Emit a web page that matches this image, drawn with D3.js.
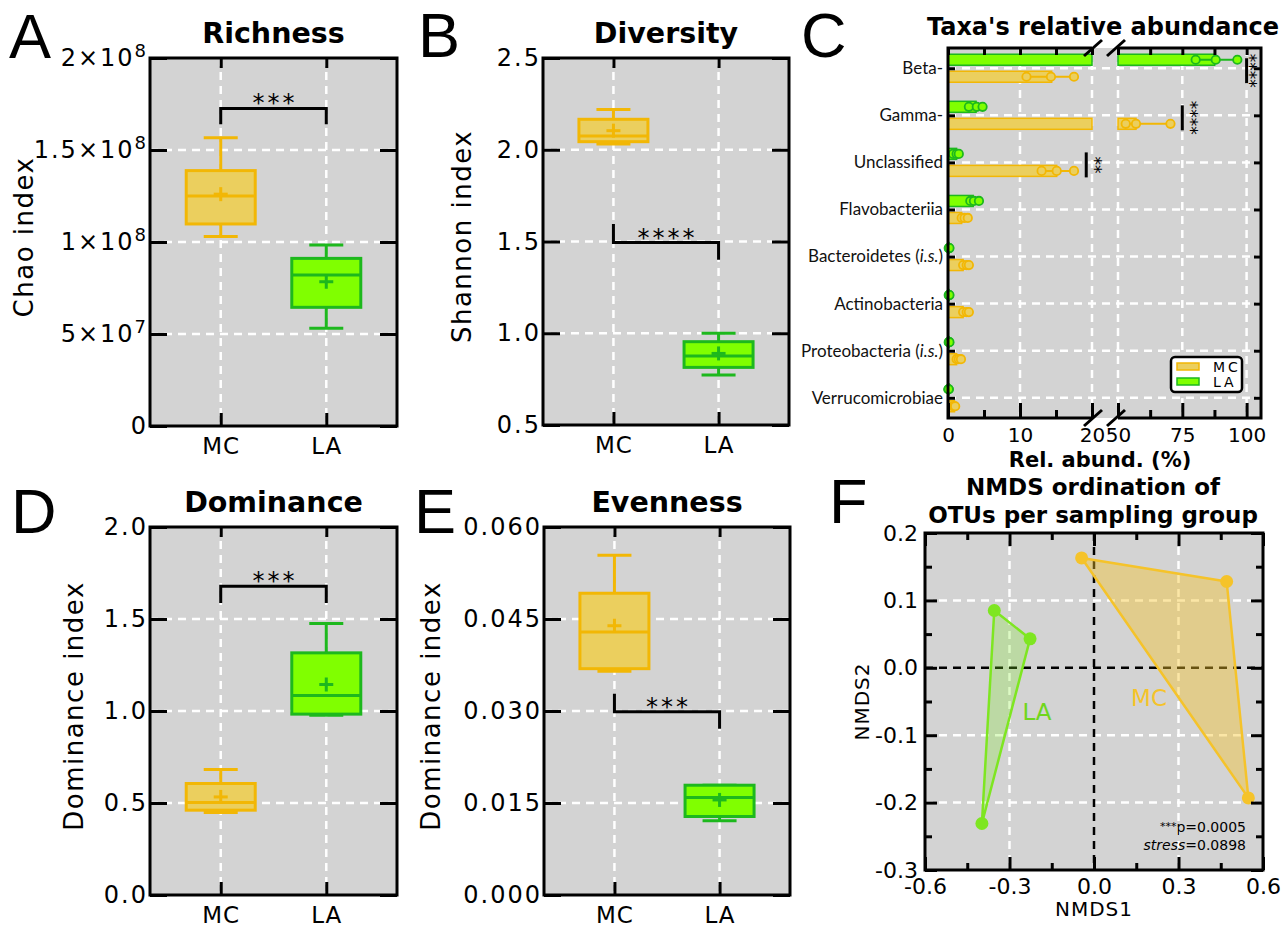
<!DOCTYPE html>
<html lang="en">
<head>
<meta charset="UTF-8">
<title>Alpha diversity, taxa abundance and NMDS</title>
<style>
  body { margin: 0; background: #fff; }
  svg { display: block; font-family: "DejaVu Sans", sans-serif; }
</style>
</head>
<body>
<script src="https://cdn.jsdelivr.net/npm/d3@7"></script>
<script>
const W = 1282, H = 928;

// ---- box plots: [min, q1, median, q3, max, mean]
const groups = ["MC", "LA"];
const richnessMC = [1.03e8, 1.098e8, 1.25e8, 1.388e8, 1.567e8, 1.26e8];
const richnessLA = [0.531e8, 0.645e8, 0.821e8, 0.911e8, 0.984e8, 0.784e8];
const diversityMC = [2.031, 2.044, 2.075, 2.166, 2.22, 2.104];
const diversityLA = [0.772, 0.814, 0.876, 0.954, 1.0, 0.89];
const dominanceMC = [0.449, 0.461, 0.503, 0.606, 0.682, 0.533];
const dominanceLA = [0.977, 0.983, 1.084, 1.316, 1.475, 1.144];
const evennessMC = [0.0365, 0.0369, 0.0429, 0.0492, 0.0554, 0.0439];
const evennessLA = [0.0121, 0.0128, 0.0159, 0.0179, 0.0179, 0.0155];

const richnessTicks = [0, 5e7, 1e8, 1.5e8, 2e8];
const diversityTicks = [0.5, 1.0, 1.5, 2.0, 2.5];
const dominanceTicks = [0, 0.5, 1.0, 1.5, 2.0];
const evennessTicks = [0, 0.015, 0.03, 0.045, 0.06];

// significance brackets: [left leg end, bar level, right leg end]
const richnessSig = [1.64e8, 1.726e8, 1.64e8];
const diversitySig = [1.595, 1.494, 1.40];
const dominanceSig = [1.587, 1.678, 1.587];
const evennessSig = [0.0328, 0.02986, 0.0271];

// ---- taxa relative abundance (%)
const taxa = ["Beta-", "Gamma-", "Unclassified", "Flavobacteriia",
  "Bacteroidetes (i.s.)", "Actinobacteria", "Proteobacteria (i.s.)", "Verrucomicrobiae"];
const mcAbund = [14.4, 57.0, 15.1, 1.9, 2.1, 2.1, 1.2, 0.9];
const laAbund = [87.6, 3.9, 1.2, 3.5, 0.15, 0.15, 0.15, 0.1];
const mcPoints = [[10.9, 14.3, 17.5], [53, 57, 70.4], [13.0, 15.1, 17.5], [1.9, 2.3, 2.75],
  [2.1, 2.6, 2.9], [2.1, 2.6, 2.9], [1.2, 1.5, 1.8], [0.7, 0.9, 1.0]];
const laPoints = [[80.2, 88.0, 96.4], [2.9, 4.0, 4.8], [0.7, 1.2, 1.5], [3.1, 3.6, 4.3],
  [0.1, 0.15, 0.2], [0.1, 0.15, 0.2], [0.1, 0.15, 0.2], [0.05, 0.1, 0.1]];
// [taxon, x position (%), stars, gap between line and stars]
const taxaSig = [["Beta-", 100, "****", 6.5], ["Gamma-", 75, "****", 12], ["Unclassified", 19.2, "**", 12]];
const abundTicksLow = [0, 5, 10, 15, 20];
const abundTicksHigh = [50, 62.5, 75, 87.5, 100];
const abundLabelsLow = [0, 10, 20];
const abundLabelsHigh = [50, 75, 100];

// ---- NMDS
const nmdsLA = [[-0.354, 0.085], [-0.227, 0.043], [-0.398, -0.231]];
const nmdsMC = [[-0.044, 0.163], [0.471, 0.128], [0.548, -0.193]];
const nmdsXTicks = [-0.6, -0.3, 0, 0.3, 0.6];
const nmdsXMinor = [-0.45, -0.15, 0.15, 0.45];
const nmdsYTicks = [-0.3, -0.2, -0.1, 0, 0.1, 0.2];
const nmdsYMinor = [-0.25, -0.15, -0.05, 0.05, 0.15];

const col = {
  MC: { fill: "#ebcf5e", stroke: "#f2b705" },
  LA: { fill: "#80ff00", stroke: "#1db81d" }
};
const BG = "#d3d3d3";

const svg = d3.select("body").append("svg").attr("width", W).attr("height", H);

function styleAxis(sel, size, spacing) {
  sel.select(".domain").remove();
  sel.selectAll("line").attr("stroke", "#000").attr("stroke-width", 3);
  sel.attr("font-family", "DejaVu Sans").attr("font-size", size);
  sel.selectAll("text").attr("fill", "#000").style("letter-spacing", (spacing || 0) + "px");
}

function gridLine(g, x1, y1, x2, y2, color) {
  g.append("line").attr("x1", x1).attr("y1", y1).attr("x2", x2).attr("y2", y2)
    .attr("stroke", color || "#fff").attr("stroke-width", 2.5).attr("stroke-dasharray", "8,6");
}

// superscript labels for richness axis
function sciLabel(text) {
  text.each(function (d) {
    const t = d3.select(this);
    t.text(null);
    if (d === 0) { t.text("0"); return; }
    const e = Math.floor(Math.log10(d));
    const m = +(d / Math.pow(10, e)).toFixed(1);
    t.append("tspan").text(m + "×10");
    t.append("tspan").attr("dy", "-0.5em").attr("font-size", "0.75em").text(e);
  });
}

function boxPanel(o) {
  const g = svg.append("g");
  const x = d3.scalePoint().domain(groups).range([o.x0, o.x1]).padding(0.67);
  const y = d3.scaleLinear().domain([o.ticks[0], o.ticks[o.ticks.length - 1]]).range([o.y1, o.y0]);

  g.append("rect").attr("x", o.x0).attr("y", o.y0).attr("width", o.x1 - o.x0)
    .attr("height", o.y1 - o.y0).attr("fill", BG);
  o.ticks.slice(1, -1).forEach(t => gridLine(g, o.x0, y(t), o.x1, y(t)));
  groups.forEach(k => gridLine(g, x(k), o.y0, x(k), o.y1));

  const stats = { MC: o.mc, LA: o.la };
  groups.forEach(k => {
    const s = stats[k], cx = x(k), c = col[k];
    const gb = g.append("g").attr("stroke", c.stroke).attr("stroke-width", 3);
    gb.append("line").attr("x1", cx).attr("x2", cx).attr("y1", y(s[0])).attr("y2", y(s[4]));
    [s[0], s[4]].forEach(v => gb.append("line").attr("x1", cx - 17).attr("x2", cx + 17)
      .attr("y1", y(v)).attr("y2", y(v)));
    gb.append("rect").attr("x", cx - 34.5).attr("width", 69).attr("y", y(s[3]))
      .attr("height", y(s[1]) - y(s[3])).attr("fill", c.fill);
    gb.append("line").attr("x1", cx - 34.5).attr("x2", cx + 34.5).attr("y1", y(s[2])).attr("y2", y(s[2]));
    gb.append("line").attr("x1", cx - 7).attr("x2", cx + 7).attr("y1", y(s[5])).attr("y2", y(s[5]));
    gb.append("line").attr("x1", cx).attr("x2", cx).attr("y1", y(s[5]) - 7).attr("y2", y(s[5]) + 7);
  });

  // significance bracket
  const sg = o.sig;
  g.append("path")
    .attr("d", `M${x("MC")},${y(sg[0])}V${y(sg[1])}H${x("LA")}V${y(sg[2])}`)
    .attr("fill", "none").attr("stroke", "#000").attr("stroke-width", 3);
  g.append("text").attr("x", (x("MC") + x("LA")) / 2 + 1.5).attr("y", y(sg[1]) + 3)
    .attr("text-anchor", "middle").attr("font-size", 24).style("letter-spacing", "3px")
    .text(o.stars);

  // inward ticks on all sides
  g.append("g").attr("transform", `translate(${o.x0},0)`)
    .call(d3.axisRight(y).tickValues(o.ticks).tickSize(17).tickFormat("")).call(styleAxis);
  g.append("g").attr("transform", `translate(${o.x1},0)`)
    .call(d3.axisLeft(y).tickValues(o.ticks).tickSize(17).tickFormat("")).call(styleAxis);
  g.append("g").attr("transform", `translate(0,${o.y0})`)
    .call(d3.axisBottom(x).tickSize(10).tickFormat("")).call(styleAxis);
  g.append("g").attr("transform", `translate(0,${o.y1})`)
    .call(d3.axisTop(x).tickSize(13).tickFormat("")).call(styleAxis);

  // tick labels
  const yl = g.append("g").attr("transform", `translate(${o.x0},0)`)
    .call(d3.axisLeft(y).tickValues(o.ticks).tickSize(0).tickPadding(2)
      .tickFormat(o.fmt || (d => d)));
  styleAxis(yl, 24, 2);
  if (o.sci) yl.selectAll("text").call(sciLabel);
  const xl = g.append("g").attr("transform", `translate(0,${o.y1})`)
    .call(d3.axisBottom(x).tickSize(0).tickPadding(12));
  styleAxis(xl, 23, 1);

  g.append("rect").attr("x", o.x0).attr("y", o.y0).attr("width", o.x1 - o.x0)
    .attr("height", o.y1 - o.y0).attr("fill", "none").attr("stroke", "#000").attr("stroke-width", 3);

  g.append("text").attr("x", (o.x0 + o.x1) / 2).attr("y", o.titleY).attr("text-anchor", "middle")
    .attr("font-size", 28.5).attr("font-weight", "bold").text(o.title);
  g.append("text").attr("transform", `translate(${o.ylabX},${(o.y0 + o.y1) / 2 - 5}) rotate(-90)`)
    .attr("text-anchor", "middle").attr("font-size", 26).style("letter-spacing", "1.5px").text(o.ylab);
}

boxPanel({ title: "Richness", ylab: "Chao index", x0: 150, x1: 397, y0: 58, y1: 426,
  ticks: richnessTicks, mc: richnessMC, la: richnessLA, sig: richnessSig, stars: "***",
  sci: true, titleY: 43, ylabX: 33 });
boxPanel({ title: "Diversity", ylab: "Shannon index", x0: 543, x1: 789, y0: 58, y1: 425,
  ticks: diversityTicks, mc: diversityMC, la: diversityLA, sig: diversitySig, stars: "****",
  fmt: d3.format(".1f"), titleY: 43, ylabX: 471 });
boxPanel({ title: "Dominance", ylab: "Dominance index", x0: 150, x1: 397, y0: 527, y1: 895,
  ticks: dominanceTicks, mc: dominanceMC, la: dominanceLA, sig: dominanceSig, stars: "***",
  fmt: d3.format(".1f"), titleY: 512, ylabX: 83 });
boxPanel({ title: "Evenness", ylab: "Dominance index", x0: 544, x1: 790, y0: 527, y1: 895,
  ticks: evennessTicks, mc: evennessMC, la: evennessLA, sig: evennessSig, stars: "***",
  fmt: d3.format(".3f"), titleY: 512, ylabX: 440 });

// ================= panel C: broken-axis bars =================
(function () {
  const x0 = 948, x1 = 1261, y0 = 48, y1 = 418;
  const xs1 = d3.scaleLinear().domain([0, 20]).range([x0, 1092]);
  const xs2 = d3.scaleLinear().domain([50, 105.6]).range([1118, x1]);
  const yC = d3.scalePoint().domain(taxa).range([y0, y1]).padding(0.43);
  const px = v => v <= 20 ? xs1(v) : xs2(Math.max(v, 50));
  const pieces = (a, b) => {
    const out = [];
    if (a < 20) out.push([xs1(a), xs1(Math.min(b, 20))]);
    if (b > 50) out.push([xs2(Math.max(a, 50)), xs2(b)]);
    return out;
  };
  const g = svg.append("g");
  g.append("rect").attr("x", x0).attr("y", y0).attr("width", x1 - x0).attr("height", y1 - y0).attr("fill", BG);
  [10, 20].forEach(v => gridLine(g, xs1(v), y0, xs1(v), y1));
  [50, 75, 100].forEach(v => gridLine(g, xs2(v), y0, xs2(v), y1));
  taxa.forEach(t => gridLine(g, x0, yC(t), x1, yC(t)));

  const series = [
    { key: "LA", vals: laAbund, pts: laPoints, off: -14 },
    { key: "MC", vals: mcAbund, pts: mcPoints, off: 3 }
  ];
  series.forEach(s => {
    const c = col[s.key];
    taxa.forEach((t, i) => {
      const top = yC(t) + s.off, cy = top + 5.5;
      pieces(0, s.vals[i]).forEach(p => g.append("rect").attr("x", p[0]).attr("y", top)
        .attr("width", Math.max(p[1] - p[0], 1)).attr("height", 11)
        .attr("fill", c.fill).attr("stroke", c.stroke).attr("stroke-width", 1.5));
      const pts = s.pts[i];
      pieces(d3.min(pts), d3.max(pts)).forEach(p => g.append("line").attr("x1", p[0]).attr("x2", p[1])
        .attr("y1", cy).attr("y2", cy).attr("stroke", c.stroke).attr("stroke-width", 2));
      g.selectAll(null).data(pts).join("circle").attr("cx", px).attr("cy", cy).attr("r", 4.2)
        .attr("fill", c.fill).attr("stroke", c.stroke).attr("stroke-width", 1.8);
    });
  });

  // significance
  taxaSig.forEach(([t, at, lab, gap]) => {
    const xv = px(at);
    g.append("line").attr("x1", xv).attr("x2", xv).attr("y1", yC(t) - 10).attr("y2", yC(t) + 15)
      .attr("stroke", "#000").attr("stroke-width", 3);
    g.append("text").attr("transform", `translate(${xv + gap - 9.5},${yC(t) + 2.5}) rotate(90)`)
      .attr("text-anchor", "middle").attr("font-size", 17).text(lab);
  });

  // ticks
  const tk = (axis, tx, ty) => g.append("g").attr("transform", `translate(${tx},${ty})`).call(axis).call(styleAxis);
  tk(d3.axisRight(yC).tickSize(7).tickFormat(""), x0, 0);
  tk(d3.axisLeft(yC).tickSize(7).tickFormat(""), x1, 0);
  tk(d3.axisBottom(xs1).tickValues(abundTicksLow).tickSize(7).tickFormat(""), 0, y0);
  tk(d3.axisBottom(xs2).tickValues(abundTicksHigh).tickSize(7).tickFormat(""), 0, y0);
  tk(d3.axisTop(xs1).tickValues(abundLabelsLow).tickSize(15).tickFormat(""), 0, y1);
  tk(d3.axisTop(xs2).tickValues(abundLabelsHigh).tickSize(15).tickFormat(""), 0, y1);
  tk(d3.axisTop(xs1).tickValues([5, 15]).tickSize(8).tickFormat(""), 0, y1);
  tk(d3.axisTop(xs2).tickValues([62.5, 87.5]).tickSize(8).tickFormat(""), 0, y1);

  [xs1, xs2].forEach((s, i) => {
    const a = g.append("g").attr("transform", `translate(0,${y1})`)
      .call(d3.axisBottom(s).tickValues(i ? abundLabelsHigh : abundLabelsLow).tickSize(0).tickPadding(10));
    styleAxis(a, 20);
  });
  const yl = g.append("g").attr("transform", `translate(${x0},0)`)
    .call(d3.axisLeft(yC).tickSize(0).tickPadding(5));
  styleAxis(yl, 17);
  yl.attr("font-family", "Lato");
  yl.selectAll("text").attr("fill", "#111").each(function (d) {
    if (d.indexOf("(i.s.)") < 0) return;
    const t = d3.select(this);
    t.text(null);
    t.append("tspan").text(d.replace(" (i.s.)", " ("));
    t.append("tspan").attr("font-style", "italic").text("i.s.");
    t.append("tspan").text(")");
  });

  // frame with break
  const fr = g.append("g").attr("stroke", "#000").attr("stroke-width", 3).attr("fill", "none");
  fr.append("path").attr("d", `M${xs1(20)},${y0}H${x0}V${y1}H${xs1(20)}`);
  fr.append("path").attr("d", `M${xs2(50)},${y0}H${x1}V${y1}H${xs2(50)}`);
  [xs1(20) + 1, xs2(50) - 2].forEach(bx => [y0, y1].forEach(by =>
    fr.append("line").attr("x1", bx - 9).attr("y1", by + 8).attr("x2", bx + 9).attr("y2", by - 8)));

  // legend
  const lg = g.append("g");
  lg.append("rect").attr("x", 1171).attr("y", 357).attr("width", 71).attr("height", 35).attr("rx", 4)
    .attr("fill", "#fff").attr("stroke", "#000").attr("stroke-width", 2.5);
  ["MC", "LA"].forEach((k, i) => {
    lg.append("rect").attr("x", 1177).attr("y", 363 + i * 15).attr("width", 22).attr("height", 7)
      .attr("fill", col[k].fill).attr("stroke", col[k].stroke).attr("stroke-width", 1.5);
    lg.append("text").attr("x", 1213).attr("y", 372 + i * 14.5).attr("font-size", 14)
      .style("letter-spacing", "3px").text(k);
  });

  g.append("text").attr("x", 1103).attr("y", 35).attr("text-anchor", "middle").attr("font-size", 24)
    .attr("font-weight", "bold").text("Taxa's relative abundance");
  g.append("text").attr("x", 1100).attr("y", 467).attr("text-anchor", "middle").attr("font-size", 21)
    .attr("font-weight", "bold").text("Rel. abund. (%)");
})();

// ================= panel F: NMDS =================
(function () {
  const x0 = 925, x1 = 1263, y0 = 533, y1 = 870;
  const x = d3.scaleLinear().domain([-0.6, 0.6]).range([x0, x1]);
  const y = d3.scaleLinear().domain([-0.3, 0.2]).range([y1, y0]);
  const g = svg.append("g");
  g.append("rect").attr("x", x0).attr("y", y0).attr("width", x1 - x0).attr("height", y1 - y0).attr("fill", BG);
  [-0.3, 0.3].forEach(v => gridLine(g, x(v), y0, x(v), y1));
  [0.1, -0.1, -0.2].forEach(v => gridLine(g, x0, y(v), x1, y(v)));
  gridLine(g, x(0), y0, x(0), y1, "#000");
  gridLine(g, x0, y(0), x1, y(0), "#000");

  const groupsF = [
    { pts: nmdsLA, c: "#7ee621", fill: "rgba(126,232,36,0.27)" },
    { pts: nmdsMC, c: "#f5c32a", fill: "rgba(245,195,42,0.42)" }
  ];
  groupsF.forEach(s => {
    const hull = d3.polygonHull(s.pts.map(p => [x(p[0]), y(p[1])]));
    g.append("path").attr("d", "M" + hull.join("L") + "Z").attr("fill", s.fill)
      .attr("stroke", s.c).attr("stroke-width", 2.5).attr("stroke-linejoin", "round");
    g.selectAll(null).data(s.pts).join("circle").attr("cx", d => x(d[0])).attr("cy", d => y(d[1]))
      .attr("r", 6.5).attr("fill", s.c);
  });
  g.append("text").attr("x", 1037).attr("y", 720).attr("text-anchor", "middle").attr("font-size", 23)
    .attr("fill", "#6fd61c").text("LA");
  g.append("text").attr("x", 1149).attr("y", 706).attr("text-anchor", "middle").attr("font-size", 23)
    .attr("fill", "#f5c32a").text("MC");

  const st = g.append("text").attr("x", 1246).attr("y", 832).attr("text-anchor", "end").attr("font-size", 14);
  st.append("tspan").attr("font-size", 11).attr("dy", -2).text("***");
  st.append("tspan").attr("dy", 2).text("p=0.0005");
  const st2 = g.append("text").attr("x", 1246).attr("y", 850).attr("text-anchor", "end").attr("font-size", 14);
  st2.append("tspan").attr("font-style", "italic").text("stress");
  st2.append("tspan").text("=0.0898");

  const tk = (axis, tx, ty) => g.append("g").attr("transform", `translate(${tx},${ty})`).call(axis).call(styleAxis);
  tk(d3.axisBottom(x).tickValues(nmdsXTicks).tickSize(13).tickFormat(""), 0, y0);
  tk(d3.axisBottom(x).tickValues(nmdsXMinor).tickSize(7).tickFormat(""), 0, y0);
  tk(d3.axisTop(x).tickValues(nmdsXTicks).tickSize(13).tickFormat(""), 0, y1);
  tk(d3.axisTop(x).tickValues(nmdsXMinor).tickSize(7).tickFormat(""), 0, y1);
  tk(d3.axisRight(y).tickValues(nmdsYTicks).tickSize(12).tickFormat(""), x0, 0);
  tk(d3.axisRight(y).tickValues(nmdsYMinor).tickSize(7).tickFormat(""), x0, 0);
  tk(d3.axisLeft(y).tickValues(nmdsYTicks).tickSize(12).tickFormat(""), x1, 0);
  tk(d3.axisLeft(y).tickValues(nmdsYMinor).tickSize(7).tickFormat(""), x1, 0);

  const fmt = d => d.toFixed(1);
  const xl = g.append("g").attr("transform", `translate(0,${y1})`)
    .call(d3.axisBottom(x).tickValues(nmdsXTicks).tickSize(0).tickPadding(8).tickFormat(fmt));
  styleAxis(xl, 22);
  const yl = g.append("g").attr("transform", `translate(${x0},0)`)
    .call(d3.axisLeft(y).tickValues(nmdsYTicks).tickSize(0).tickPadding(7).tickFormat(fmt));
  styleAxis(yl, 22);

  g.append("rect").attr("x", x0).attr("y", y0).attr("width", x1 - x0).attr("height", y1 - y0)
    .attr("fill", "none").attr("stroke", "#000").attr("stroke-width", 3);

  g.append("text").attr("x", (x0 + x1) / 2).attr("y", 916).attr("text-anchor", "middle")
    .attr("font-size", 20).style("letter-spacing", "1px").text("NMDS1");
  g.append("text").attr("transform", `translate(869,${(y0 + y1) / 2}) rotate(-90)`)
    .attr("text-anchor", "middle").attr("font-size", 20).style("letter-spacing", "1px").text("NMDS2");
  g.append("text").attr("x", 1093).attr("y", 495).attr("text-anchor", "middle").attr("font-size", 23)
    .attr("font-weight", "bold").text("NMDS ordination of");
  g.append("text").attr("x", 1093).attr("y", 523).attr("text-anchor", "middle").attr("font-size", 23)
    .attr("font-weight", "bold").text("OTUs per sampling group");
})();

// panel letters
const letters = [["A", 9, 58], ["B", 418, 57], ["C", 801, 57], ["D", 11, 533], ["E", 414, 533], ["F", 829, 523]];
svg.selectAll(".letter").data(letters).join("text").attr("class", "letter")
  .attr("x", d => d[1]).attr("y", d => d[2]).attr("font-family", "Liberation Sans")
  .attr("font-size", 63).text(d => d[0]);
</script>
</body>
</html>
